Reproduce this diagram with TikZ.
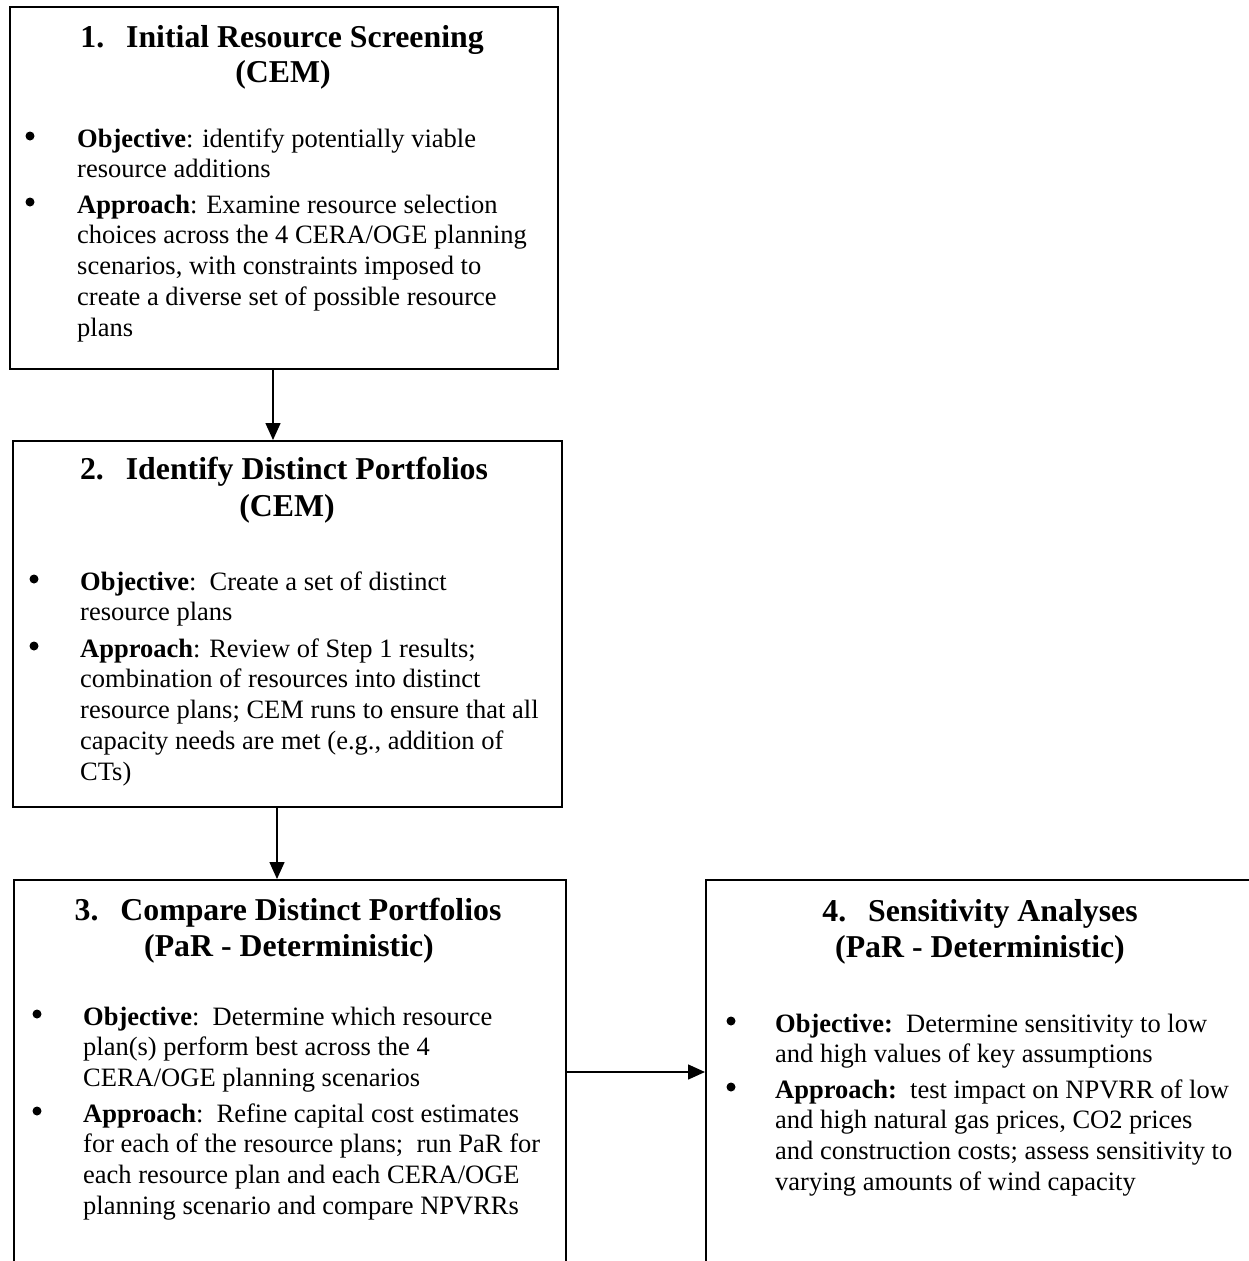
\documentclass[tikz,border=0pt]{standalone}
\usepackage{fontspec}
\setmainfont{Liberation Serif}
\usetikzlibrary{arrows.meta}
\begin{document}
\begin{tikzpicture}[x=1pt,y=-1pt,
  box/.style={draw, line width=1.7pt, inner sep=0, anchor=north west},
  arr/.style={line width=1.5pt, -{Triangle[length=17pt,width=15pt]}},
  ttl/.style={anchor=base, inner sep=0, font=\fontsize{31.8}{36}\selectfont\bfseries},
  txt/.style={anchor=base west, inner sep=0, font=\fontsize{26.5}{30.8}\selectfont},
  bul/.style={circle, fill, inner sep=0, minimum size=9pt}]
\useasboundingbox (0,0) rectangle (1249,1261);
\clip (0,0) rectangle (1249,1261);
% boxes
\node[box, minimum width=548pt, minimum height=362pt] (b1) at (9,6) {};
\node[box, minimum width=549pt, minimum height=366pt] (b2) at (12,440) {};
\node[box, minimum width=552pt, minimum height=430pt] (b3) at (13,879) {};
\node[box, minimum width=550pt, minimum height=430pt] (b4) at (705,879) {};
% connectors
\draw[arr] ([xshift=264pt]b1.south west) -- ([xshift=264pt]b1.south west |- b2.north);
\draw[arr] ([xshift=265pt]b2.south west) -- ([xshift=265pt]b2.south west |- b3.north);
\draw[arr] ([yshift=-193pt]b3.north east) -- ([yshift=-193pt]b4.north west);
% box 1
\node[ttl] (t1a) at (282,47) {1.\hspace{22pt}Initial Resource Screening};
\node[ttl] (t1b) at (283,82) {(CEM)};
\node[bul] (u1a) at (30,136) {};
\node[txt] (o1) at (77,147) {\parbox[t]{520pt}{\raggedright\textbf{Objective}: identify potentially viable\\resource additions}};
\node[bul] (u1b) at (30,202) {};
\node[txt] (a1) at (77,213) {\parbox[t]{520pt}{\raggedright\textbf{Approach}: Examine resource selection\\choices across the 4 CERA/OGE planning\\scenarios, with constraints imposed to\\create a diverse set of possible resource\\plans}};
% box 2
\node[ttl] (t2a) at (284,479) {2.\hspace{22pt}Identify Distinct Portfolios};
\node[ttl] (t2b) at (287,516) {(CEM)};
\node[bul] (u2a) at (34,579) {};
\node[txt] (o2) at (80,590) {\parbox[t]{520pt}{\raggedright\textbf{Objective}:\ \ Create a set of distinct\\resource plans}};
\node[bul] (u2b) at (34,646) {};
\node[txt] (a2) at (80,657) {\parbox[t]{520pt}{\raggedright\textbf{Approach}: Review of Step 1 results;\\combination of resources into distinct\\resource plans; CEM runs to ensure that all\\capacity needs are met (e.g., addition of\\CTs)}};
% box 3
\node[ttl] (t3a) at (288,920) {3.\hspace{22pt}Compare Distinct Portfolios};
\node[ttl] (t3b) at (289,956) {(PaR - Deterministic)};
\node[bul] (u3a) at (37,1014) {};
\node[txt] (o3) at (83,1025) {\parbox[t]{520pt}{\raggedright\textbf{Objective}:\ \ Determine which resource\\plan(s) perform best across the 4\\CERA/OGE planning scenarios}};
\node[bul] (u3b) at (37,1111) {};
\node[txt] (a3) at (83,1122) {\parbox[t]{520pt}{\raggedright\textbf{Approach}:\ \ Refine capital cost estimates\\for each of the resource plans;\ \ run PaR for\\each resource plan and each CERA/OGE\\planning scenario and compare NPVRRs}};
% box 4
\node[ttl] (t4a) at (980,921) {4.\hspace{22pt}Sensitivity Analyses};
\node[ttl] (t4b) at (980,957) {(PaR - Deterministic)};
\node[bul] (u4a) at (731,1021) {};
\node[txt] (o4) at (775,1032) {\parbox[t]{520pt}{\raggedright\textbf{Objective:}\ \ Determine sensitivity to low\\and high values of key assumptions}};
\node[bul] (u4b) at (731,1087) {};
\node[txt] (a4) at (775,1098) {\parbox[t]{520pt}{\raggedright\textbf{Approach:}\ \ test impact on NPVRR of low\\and high natural gas prices, CO2 prices\\and construction costs; assess sensitivity to\\varying amounts of wind capacity}};
\end{tikzpicture}
\end{document}
